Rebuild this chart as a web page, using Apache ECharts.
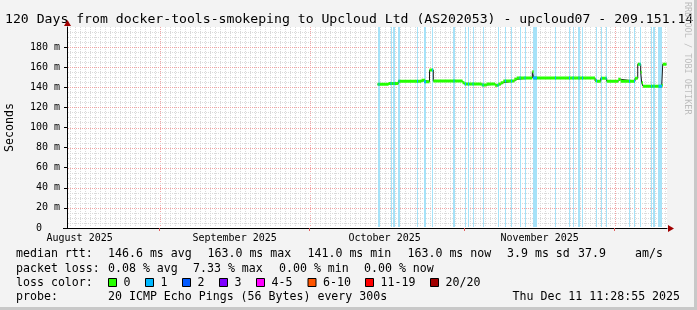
<!DOCTYPE html>
<html><head><meta charset="utf-8">
<script src="https://cdn.jsdelivr.net/npm/echarts@6/dist/echarts.min.js"></script>
<style>html,body{margin:0;padding:0;background:#f3f3f3}#c{width:697px;height:310px}</style>
</head><body><div id="c"></div><script>
// ---- data ----
const startTime = '2025-08-13T11:28:55';
const endTime   = '2025-12-11T11:28:55';
const monthLabels     = ['August 2025', 'September 2025', 'October 2025', 'November 2025'];
const monthLabelDates = ['2025-08-16', '2025-09-16', '2025-10-16', '2025-11-16'];
const monthStarts     = ['2025-09-01', '2025-10-01', '2025-11-01', '2025-12-01'];
const yTicks = [0, 20, 40, 60, 80, 100, 120, 140, 160, 180];

// median rtt (ms), step segments starting at each time
const medianTimes = [
  '2025-10-14T14:00', '2025-10-16T19:00', '2025-10-18T18:00', '2025-10-23T09:00',
  '2025-10-24T02:00', '2025-10-24T23:30', '2025-10-25T17:45', '2025-10-31T14:00',
  '2025-10-31T23:30', '2025-11-04T10:00', '2025-11-05T10:00', '2025-11-07T02:00',
  '2025-11-07T17:45', '2025-11-08T06:45', '2025-11-08T17:45', '2025-11-10T22:30',
  '2025-11-11T10:00', '2025-11-14T13:00', '2025-11-14T19:40', '2025-11-27T02:00',
  '2025-11-27T11:30', '2025-11-28T05:15', '2025-11-29T10:05', '2025-12-01T17:45',
  '2025-12-02T05:15', '2025-12-05T02:00', '2025-12-05T15:00', '2025-12-06T05:15',
  '2025-12-06T10:05', '2025-12-06T16:20', '2025-12-10T10:05', '2025-12-10T15:00',
  '2025-12-11T09:00'
];
const medianValues = [
  143.0, 143.9, 146.0, 147.0,
  145.6, 157.2, 146.2, 144.5,
  143.2, 142.3, 143.2, 142.0,
  143.2, 144.5, 146.2, 148.0,
  149.3, 155.5, 149.3, 146.4,
  146.1, 148.9, 146.1, 148.0,
  146.1, 148.9, 163.0, 155.0,
  144.5, 141.0, 142.0, 163.0,
  163.0
];

// packet loss (1/20) periods: start time and duration in hours
const lossStarts = [
  '2025-10-14T18:40', '2025-10-17T04:20', '2025-10-17T18:40', '2025-10-18T18:40',
  '2025-10-22T11:30', '2025-10-23T21:00', '2025-10-25T11:30', '2025-10-29T18:40',
  '2025-11-01T01:55', '2025-11-01T16:20', '2025-11-02T13:55', '2025-11-04T13:55',
  '2025-11-07T13:55', '2025-11-09T01:55', '2025-11-10T06:40', '2025-11-11T23:30',
  '2025-11-12T23:30', '2025-11-14T16:20', '2025-11-19T01:55', '2025-11-21T21:00',
  '2025-11-22T13:55', '2025-11-23T18:40', '2025-11-24T11:30', '2025-11-27T06:40',
  '2025-11-28T06:40', '2025-11-29T04:20', '2025-12-03T21:00', '2025-12-04T21:00',
  '2025-12-05T23:30', '2025-12-08T06:40', '2025-12-08T18:40', '2025-12-09T18:40'
];
const lossHours = [
  5, 5, 5, 5,
  5, 10, 5, 5,
  5, 5, 5, 5,
  5, 5, 5, 5,
  5, 19, 5, 5,
  5, 5, 5, 5,
  5, 5, 5, 5,
  5, 5, 5, 17
];

const lossColors = ['#26ff00', '#00b8ff', '#0059ff', '#7e00ff', '#ff00ff', '#ff5500', '#ff0000', '#a10000'];
const lossNames  = ['0', '1', '2', '3', '4-5', '6-10', '11-19', '20/20'];

// ---- helpers ----
const P = s => new Date(s.length === 10 ? s + 'T00:00:00' : s).getTime();
const tMin = P(startTime), tMax = P(endTime);
const MONO = "'DejaVu Sans Mono', monospace";
const H = 3600 * 1000;

const mt = medianTimes.map(P);
function medianAt(t) {
  let v = null;
  for (let i = 0; i < mt.length - 1; i++) if (t >= mt[i] && t < mt[i + 1]) v = medianValues[i];
  return v;
}

const darkData = mt.map((t, i) => [t, medianValues[i]]);
const greenData = [];
for (let i = 0; i < mt.length - 1; i++) {
  greenData.push([mt[i], medianValues[i]], [mt[i + 1], medianValues[i]], [mt[i + 1], '-']);
}
const blueData = [];
const lossData = [];
lossStarts.forEach((s, i) => {
  const a = P(s), b = a + lossHours[i] * H;
  lossData.push([a, b]);
  const v = medianAt((a + b) / 2);
  if (v !== null) blueData.push([a, v], [b, v], [b, '-']);
});

// grid lines: [x, y, kind] kind 0 vminor,1 vmajor,2 hminor,3 hmajor
const gridItems = [];
for (let d = new Date(2025, 7, 14); d.getTime() < tMax; d.setDate(d.getDate() + 1)) {
  if (d.getDate() !== 1) gridItems.push([d.getTime(), 0, 0]);
}
monthStarts.forEach(s => gridItems.push([P(s), 0, 1]));
for (let v = 5; v < 200; v += 5) gridItems.push([tMin, v, v % 20 === 0 ? 3 : 2]);

const chart = echarts.init(document.getElementById('c'), null, { renderer: 'canvas' });

const graphics = [
  { type: 'text', left: 5, top: 13.5, style: { text: '120 Days from docker-tools-smokeping to Upcloud Ltd (AS202053) - upcloud07 - 209.151.14', font: '13.15px ' + MONO, fill: '#000' } },
  { type: 'text', x: 692, y: 2, rotation: -Math.PI / 2, style: { text: 'RRDTOOL / TOBI OETIKER', font: '8.5px ' + MONO, fill: '#bdbdbd' } },
  { type: 'rect', shape: { x: 694, y: 0, width: 3, height: 310 }, style: { fill: '#c8c8c8' } },
  { type: 'rect', shape: { x: 0, y: 307, width: 697, height: 3 }, style: { fill: '#c8c8c8' } },
  { type: 'rect', shape: { x: 63, y: 228, width: 5, height: 1 }, style: { fill: '#000' } },
  { type: 'polygon', shape: { points: [[668, 225], [674, 228.5], [668, 232]] }, style: { fill: '#a00000' } },
  { type: 'polygon', shape: { points: [[64, 26], [67.5, 20], [71, 26]] }, style: { fill: '#a00000' } }
];
function txt(x, y, s) {
  graphics.push({ type: 'text', x: x, y: y, style: { text: s, font: '11.6px ' + MONO, fill: '#000', verticalAlign: 'middle' } });
}
txt(16, 254, 'median rtt:');
txt(108, 254, '146.6 ms avg'); txt(207.5, 254, '163.0 ms max'); txt(307.5, 254, '141.0 ms min');
txt(407.5, 254, '163.0 ms now'); txt(507, 254, '3.9 ms sd'); txt(578, 254, '37.9'); txt(635, 254, 'am/s');
txt(16, 268.5, 'packet loss:');
txt(108, 268.5, '0.08 % avg'); txt(193, 268.5, '7.33 % max'); txt(279, 268.5, '0.00 % min'); txt(364, 268.5, '0.00 % now');
txt(16, 282.5, 'loss color:');
const boxX = [108, 145, 182, 219, 256, 307.5, 365, 430];
boxX.forEach((x, i) => {
  graphics.push({ type: 'rect', shape: { x: x + 0.5, y: 278.5, width: 8, height: 8 }, style: { fill: lossColors[i], stroke: '#000', lineWidth: 1 } });
  txt(x + 15.5, 282.5, lossNames[i]);
});
txt(16, 297, 'probe:');
txt(108, 297, '20 ICMP Echo Pings (56 Bytes) every 300s');
txt(512.5, 297, 'Thu Dec 11 11:28:55 2025');

const labelTs = monthLabelDates.map(P);
chart.setOption({
  animation: false,
  backgroundColor: '#f3f3f3',
  grid: { left: 67, top: 27, width: 600, height: 201, show: true, backgroundColor: '#ffffff', borderWidth: 0,
          containLabel: false, outerBoundsMode: 'none' },
  xAxis: {
    type: 'value', min: tMin, max: tMax, scale: true, z: 10,
    axisLine: { show: true, lineStyle: { color: '#000', width: 1 } },
    axisTick: { show: true, length: 3, customValues: monthStarts.map(P), lineStyle: { color: '#e06060' } },
    axisLabel: {
      customValues: labelTs,
      formatter: v => { const i = labelTs.findIndex(t => Math.abs(t - v) < 60000); return i >= 0 ? monthLabels[i] : ''; },
      fontFamily: MONO, fontSize: 10, color: '#000', margin: 5
    },
    splitLine: { show: false }
  },
  yAxis: {
    type: 'value', min: 0, max: 200, interval: 20, z: 10,
    name: 'Seconds', nameLocation: 'middle', nameGap: 51, nameRotate: 90,
    nameTextStyle: { fontFamily: MONO, fontSize: 11.6, color: '#000' },
    axisLine: { show: true, lineStyle: { color: '#000', width: 1 } },
    axisTick: { show: true, length: 3, customValues: yTicks, lineStyle: { color: '#000' } },
    axisLabel: {
      customValues: yTicks,
      formatter: v => v === 0 ? '0   ' : (v + ' m'),
      fontFamily: MONO, fontSize: 10, color: '#000', margin: 7
    },
    splitLine: { show: false }
  },
  graphic: graphics,
  series: [
    {
      type: 'custom', z: 1, silent: true, data: gridItems,
      renderItem: function (params, api) {
        const k = api.value(2), cs = params.coordSys;
        if (k < 2) {
          const x = Math.round(api.coord([api.value(0), 0])[0]) + 0.5;
          return { type: 'line', shape: { x1: x, y1: cs.y, x2: x, y2: cs.y + cs.height - 1 },
            style: { stroke: k === 1 ? '#f2a4a4' : '#dadada', lineWidth: 1, lineDash: [1, 1] } };
        }
        const y = Math.round(api.coord([tMin, api.value(1)])[1]) + 0.5;
        return { type: 'line', shape: { x1: cs.x + 1, y1: y, x2: cs.x + cs.width, y2: y },
          style: { stroke: k === 3 ? '#f2a4a4' : '#dadada', lineWidth: 1, lineDash: [1, 1] } };
      }
    },
    {
      type: 'custom', z: 2, silent: true, data: lossData,
      renderItem: function (params, api) {
        const cs = params.coordSys;
        const x0 = Math.round(api.coord([api.value(0), 0])[0]);
        const x1 = Math.round(api.coord([api.value(1), 0])[0]);
        return { type: 'rect', shape: { x: x0, y: cs.y, width: Math.max(1, x1 - x0), height: cs.height - 1 },
          style: { fill: '#a6e2f8' } };
      }
    },
    { type: 'line', z: 3, step: 'end', data: darkData, showSymbol: false, silent: true,
      lineStyle: { color: '#1a1a1a', width: 1 } },
    { type: 'line', z: 4, data: greenData, showSymbol: false, silent: true, connectNulls: false,
      lineStyle: { color: '#26ff00', width: 3 } },
    { type: 'line', z: 5, data: blueData, showSymbol: false, silent: true, connectNulls: false,
      lineStyle: { color: '#00b8ff', width: 3 } }
  ]
});
</script></body></html>
